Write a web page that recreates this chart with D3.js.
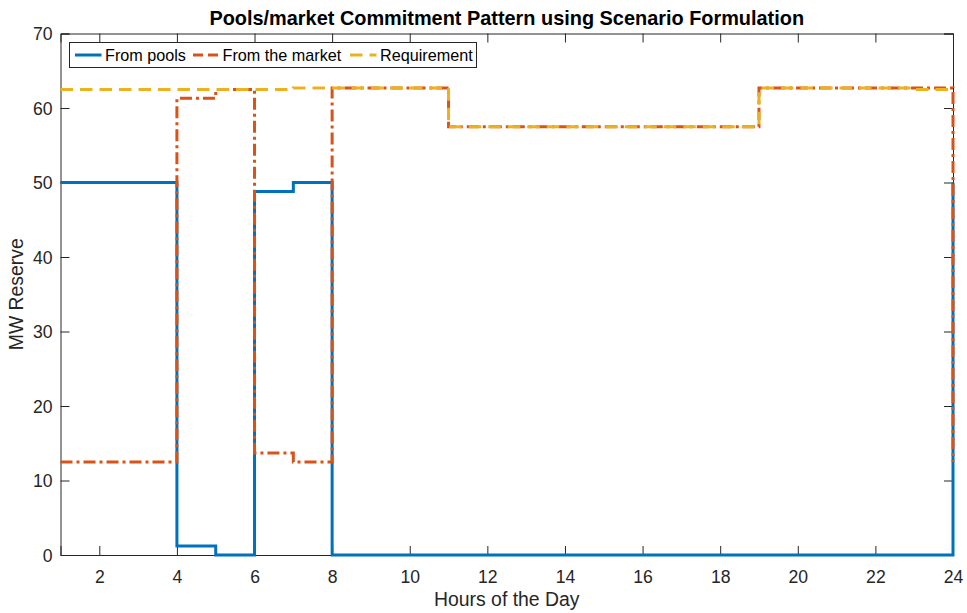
<!DOCTYPE html>
<html>
<head>
<meta charset="utf-8">
<script src="https://cdn.jsdelivr.net/npm/d3@7"></script>
<style>
  html, body { margin: 0; padding: 0; background: #fff; }
  svg { display: block; font-family: "Liberation Sans", Arial, Helvetica, sans-serif; }
</style>
</head>
<body>
<svg id="chart" width="967" height="613"></svg>
<script>
// Hour of the day (each value holds from that hour to the next)
const hours = d3.range(1, 25);

// Reserve supplied by the pools (MW)
const fromPools = [50, 50, 50, 1.2, 0, 48.8, 50, 0, 0, 0, 0, 0, 0, 0, 0, 0, 0, 0, 0, 0, 0, 0, 0, 50];

// Reserve bought on the market (MW)
const fromMarket = [12.5, 12.5, 12.5, 61.3, 62.5, 13.7, 12.5, 62.7, 62.7, 62.7, 57.5, 57.5, 57.5, 57.5, 57.5, 57.5, 57.5, 57.5, 62.7, 62.7, 62.7, 62.7, 62.7, 12.5];

// Reserve requirement (MW)
const requirement = [62.5, 62.5, 62.5, 62.5, 62.5, 62.5, 62.7, 62.7, 62.7, 62.7, 57.5, 57.5, 57.5, 57.5, 57.5, 57.5, 57.5, 57.5, 62.7, 62.7, 62.7, 62.7, 62.5, 62.5];

const xTicks = [2, 4, 6, 8, 10, 12, 14, 16, 18, 20, 22, 24];
const yTicks = [0, 10, 20, 30, 40, 50, 60, 70];

const seriesNames = ["From pools", "From the market", "Requirement"];
const seriesValues = [fromPools, fromMarket, requirement];
const seriesColors = ["#0072BD", "#D95319", "#EDB120"];
const seriesDash = [null, "12,4,3,4", "12.5,7"];

const svg = d3.select("#chart");
const margin = { left: 60.5, right: 967 - 953, top: 33.5, bottom: 613 - 555 };
const W = 967, H = 613;
const axisColor = "#262626";

const x = d3.scaleLinear().domain([1, 24]).range([margin.left, W - margin.right]);
const y = d3.scaleLinear().domain([0, 70]).range([H - margin.bottom, margin.top]);

const tickLen = 9;

// Bottom axis (ticks pointing inward)
const gx = svg.append("g")
  .attr("transform", `translate(0,${y(0)})`)
  .call(d3.axisBottom(x).tickValues(xTicks).tickSize(-tickLen).tickPadding(16).tickFormat(d3.format("d")));
// Top axis ticks
const gxt = svg.append("g")
  .attr("transform", `translate(0,${y(70)})`)
  .call(d3.axisTop(x).tickValues(xTicks).tickSize(-tickLen).tickFormat(""));
// Left axis
const gy = svg.append("g")
  .attr("transform", `translate(${x(1)},0)`)
  .call(d3.axisLeft(y).tickValues(yTicks).tickSize(-tickLen).tickPadding(8).tickFormat(d3.format("d")));
// Right axis ticks
const gyr = svg.append("g")
  .attr("transform", `translate(${x(24)},0)`)
  .call(d3.axisRight(y).tickValues(yTicks).tickSize(-tickLen).tickFormat(""));

[gx, gxt, gy, gyr].forEach(g => {
  g.select(".domain").attr("stroke", axisColor).attr("stroke-width", 1);
  g.selectAll(".tick line").attr("stroke", axisColor).attr("stroke-width", 1);
  g.selectAll(".tick text").attr("fill", axisColor).style("font-size", "17.6px")
    .style("font-family", "'Liberation Sans', Arial, Helvetica, sans-serif");
});
gy.selectAll(".tick text").attr("dy", "0.36em");

// Step lines
const line = d3.line()
  .x(d => x(d[0]))
  .y(d => y(d[1]))
  .curve(d3.curveStepAfter);

seriesValues.forEach((vals, i) => {
  const pts = hours.map((h, k) => [h, vals[k]]);
  svg.append("path")
    .datum(pts)
    .attr("d", line)
    .attr("fill", "none")
    .attr("stroke", seriesColors[i])
    .attr("stroke-width", 3)
    .attr("stroke-dasharray", seriesDash[i])
    .attr("stroke-linejoin", "miter");
});

// Legend
const legend = svg.append("g");
legend.append("rect")
  .attr("x", 69.5).attr("y", 42.5).attr("width", 407).attr("height", 25)
  .attr("fill", "#fff").attr("stroke", axisColor).attr("stroke-width", 1);
const sampleX = [75, 193, 350];
const labelX = [105, 222.5, 380];
seriesNames.forEach((name, i) => {
  legend.append("line")
    .attr("x1", sampleX[i]).attr("x2", sampleX[i] + 26.5)
    .attr("y1", 55).attr("y2", 55)
    .attr("stroke", seriesColors[i]).attr("stroke-width", 3)
    .attr("stroke-dasharray", i === 1 ? "10,5" : seriesDash[i]);
  legend.append("text")
    .attr("x", labelX[i]).attr("y", 61)
    .attr("fill", "#000")
    .style("font-size", "16.2px")
    .text(name);
});

// Title and axis labels
svg.append("text")
  .attr("x", (x(1) + x(24)) / 2).attr("y", 24.5)
  .attr("text-anchor", "middle")
  .attr("fill", "#000")
  .style("font-size", "19.9px").style("font-weight", "bold")
  .text("Pools/market Commitment Pattern using Scenario Formulation");

svg.append("text")
  .attr("x", (x(1) + x(24)) / 2).attr("y", 606)
  .attr("text-anchor", "middle")
  .attr("fill", axisColor)
  .style("font-size", "19.4px")
  .text("Hours of the Day");

svg.append("text")
  .attr("transform", `translate(23,${(y(0) + y(70)) / 2}) rotate(-90)`)
  .attr("text-anchor", "middle")
  .attr("fill", axisColor)
  .style("font-size", "19.4px")
  .text("MW Reserve");
</script>
</body>
</html>
